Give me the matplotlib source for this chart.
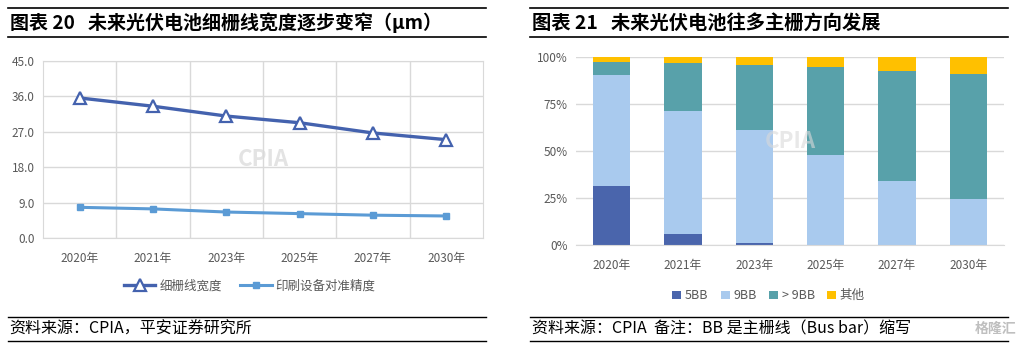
import numpy as np
import matplotlib.pyplot as plt

plt.rcParams['font.family'] = ['Noto Sans CJK SC', 'DejaVu Sans']

W, H = 1021, 351

# left chart data
years_l = ["2020年", "2021年", "2023年", "2025年", "2027年", "2030年"]
finger_width = [35.6, 33.5, 31.0, 29.3, 26.7, 25.0]
print_align = [7.8, 7.4, 6.6, 6.2, 5.8, 5.6]

# right chart data (percent)
years_r = ["2020年", "2021年", "2023年", "2025年", "2027年", "2030年"]
bb5 = [31.3, 5.9, 1.0, 0.0, 0.0, 0.0]
bb9 = [59.3, 65.5, 60.2, 47.7, 33.8, 24.6]
bb_more = [6.7, 25.4, 34.4, 47.1, 58.5, 66.1]
other = [2.7, 3.2, 4.4, 5.2, 7.7, 9.3]

fig = plt.figure(figsize=(W / 100, H / 100), dpi=100)


def px_axes(x0, y0, x1, y1):
    return fig.add_axes([x0 / W, 1 - y1 / H, (x1 - x0) / W, (y1 - y0) / H])


def hline(x0, x1, y, lw=1.2):
    fig.add_artist(plt.Line2D([x0 / W, x1 / W], [1 - y / H, 1 - y / H],
                              color="black", lw=lw))


def ftext(x, y, s, **kw):
    fig.text(x / W, 1 - y / H, s, **kw)


tick_col = "#595959"
grid_col = "#d9d9d9"

# ---- headers / footers ----
hline(8, 486, 8)
hline(8, 486, 37)
ftext(10, 23, "图表 20   未来光伏电池细栅线宽度逐步变窄（μm）", fontsize=13.7,
      fontweight="bold", va="center")
hline(530, 1008, 8)
hline(530, 1008, 37)
ftext(532, 23, "图表 21   未来光伏电池往多主栅方向发展", fontsize=13.9,
      fontweight="bold", va="center")

hline(8, 486, 317, lw=1.0)
hline(8, 486, 341, lw=1.0)
ftext(9, 329, "资料来源：CPIA，平安证券研究所", fontsize=11.5, style="italic",
      va="center")
hline(530, 1008, 317, lw=1.0)
hline(530, 1008, 341, lw=1.0)
ftext(532, 329, "资料来源：CPIA  备注：BB 是主栅线（Bus bar）缩写", fontsize=11.5,
      style="italic", va="center")
ftext(975, 329, "格隆汇", fontsize=10, color="#bfbfbf", va="center",
      fontweight="bold")

# ---- left line chart ----
ax = px_axes(43, 61, 483, 238)
x = np.arange(len(years_l))
ax.plot(x, finger_width, color="#4462AE", lw=2.4, marker="^", ms=8,
        mfc="white", mec="#4462AE", mew=1.6, label="细栅线宽度", zorder=3)
ax.plot(x, print_align, color="#5B9BD5", lw=2.2, marker="s", ms=5,
        mfc="#5B9BD5", mec="#5B9BD5", label="印刷设备对准精度", zorder=3)
ax.set_xlim(-0.5, 5.5)
ax.set_ylim(0, 45)
ax.set_yticks(np.arange(0, 46, 9))
ax.set_yticklabels([f"{v:.1f}" for v in np.arange(0, 46, 9)])
ax.set_xticks(x)
ax.set_xticklabels(years_l)
ax.set_xticks(np.arange(0.5, 5, 1), minor=True)
ax.grid(True, axis="y", color=grid_col, lw=1)
ax.grid(True, axis="x", which="minor", color=grid_col, lw=1)
ax.grid(False, axis="x", which="major")
for s in ax.spines.values():
    s.set_color(grid_col)
ax.tick_params(axis="both", which="both", length=0, colors=tick_col,
               labelsize=8.5)
ax.tick_params(axis="x", pad=10)
ax.tick_params(axis="y", pad=6)
ax.text(2.5, 20, "CPIA", fontsize=16, fontweight="bold", color="#e3e3e3",
        ha="center", va="center", zorder=1)
ax.legend(loc="center", bbox_to_anchor=(0.47, -0.27), ncol=2, frameon=False,
          fontsize=9, labelcolor=tick_col, handlelength=2.5, columnspacing=1.5,
          handletextpad=0.3)

# ---- right stacked bar chart ----
ax2 = px_axes(576, 57, 1004, 245)
xr = np.arange(len(years_r))
bw = 0.52
b1 = np.array(bb5)
b2 = b1 + np.array(bb9)
b3 = b2 + np.array(bb_more)
ax2.bar(xr, bb5, bw, color="#4A65AC", label="5BB", zorder=2)
ax2.bar(xr, bb9, bw, bottom=b1, color="#A9CAEE", label="9BB", zorder=2)
ax2.bar(xr, bb_more, bw, bottom=b2, color="#58A1AA", label="> 9BB", zorder=2)
ax2.bar(xr, other, bw, bottom=b3, color="#FFC000", label="其他", zorder=2)
ax2.set_xlim(-0.5, 5.5)
ax2.set_ylim(0, 100)
ax2.set_yticks([0, 25, 50, 75, 100])
ax2.set_yticklabels(["0%", "25%", "50%", "75%", "100%"])
ax2.set_xticks(xr)
ax2.set_xticklabels(years_r)
ax2.grid(True, axis="y", color=grid_col, lw=1, zorder=0)
for k in ["top", "right", "left"]:
    ax2.spines[k].set_visible(False)
ax2.spines["bottom"].set_color(grid_col)
ax2.tick_params(axis="both", length=0, colors=tick_col, labelsize=8.5)
ax2.tick_params(axis="x", pad=10)
ax2.tick_params(axis="y", pad=6)
ax2.text(2.5, 55, "CPIA", fontsize=16, fontweight="bold", color="#d9d9d9",
         ha="center", va="center", zorder=3, alpha=0.6)
ax2.legend(loc="center", bbox_to_anchor=(0.45, -0.27), ncol=4, frameon=False,
           fontsize=9, labelcolor=tick_col, handlelength=0.7, handleheight=0.7,
           columnspacing=1.0, handletextpad=0.3)

fig.savefig("out.png", dpi=100)
